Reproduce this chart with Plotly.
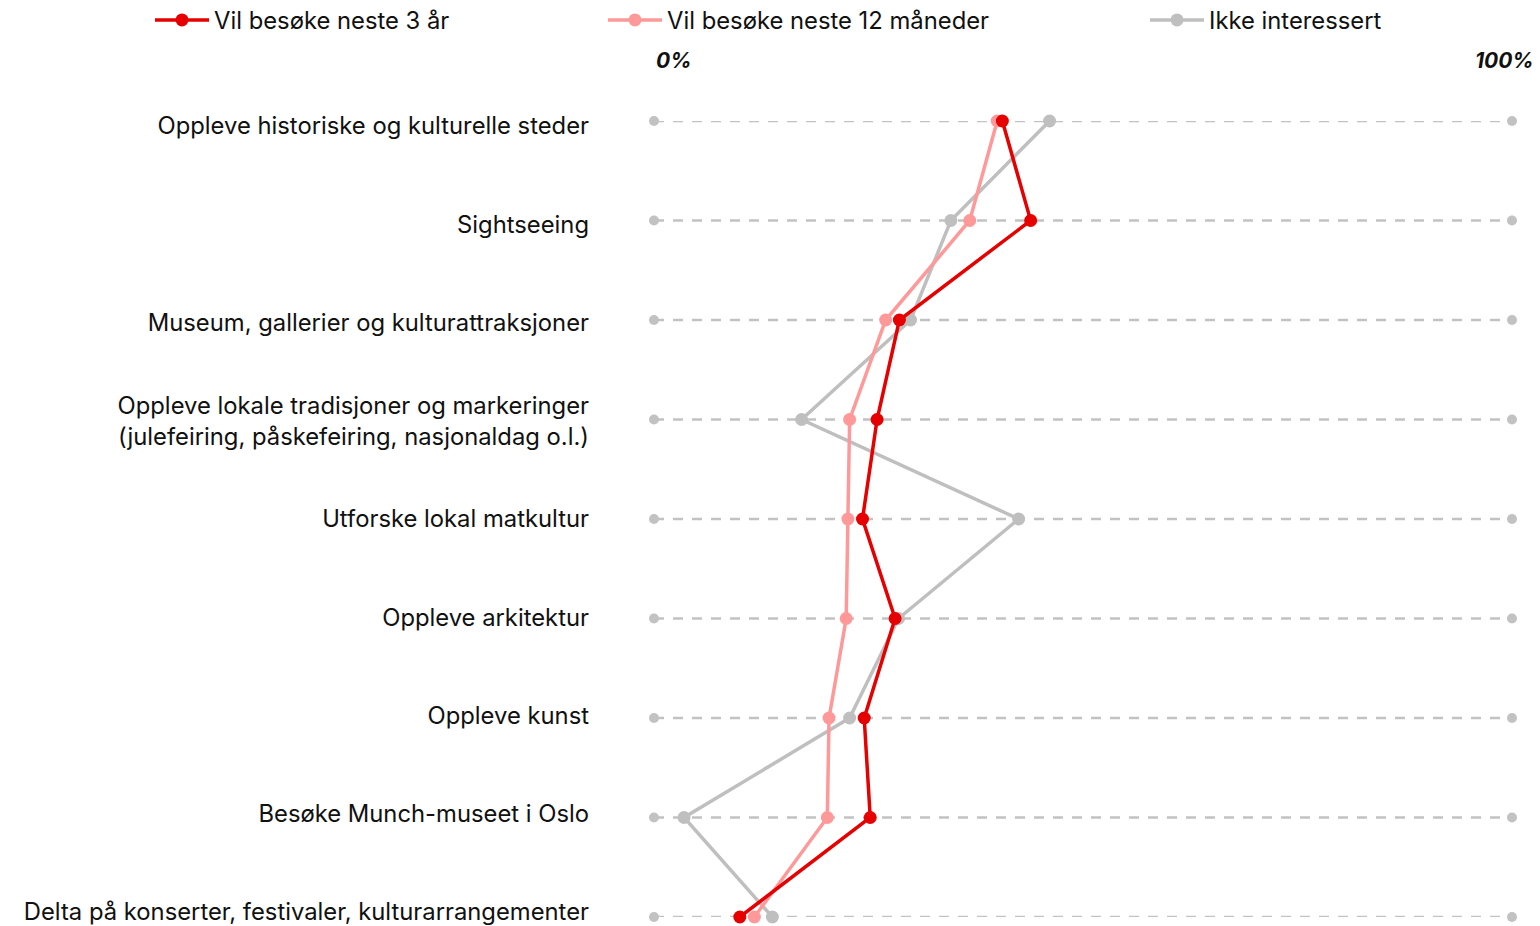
import plotly.graph_objects as go

categories = [
    "Oppleve historiske og kulturelle steder",
    "Sightseeing",
    "Museum, gallerier og kulturattraksjoner",
    "Oppleve lokale tradisjoner og markeringer<br>(julefeiring, påskefeiring, nasjonaldag o.l.)",
    "Utforske lokal matkultur",
    "Oppleve arkitektur",
    "Oppleve kunst",
    "Besøke Munch-museet i Oslo",
    "Delta på konserter, festivaler, kulturarrangementer",
]
series_names = ["Vil besøke neste 3 år", "Vil besøke neste 12 måneder", "Ikke interessert"]
vals_3ar = [40.6, 43.9, 28.6, 26.0, 24.3, 28.1, 24.5, 25.2, 10.0]
vals_12m = [40.0, 36.8, 27.0, 22.8, 22.6, 22.4, 20.4, 20.2, 11.7]
vals_ikke = [46.1, 34.6, 29.9, 17.2, 42.5, 28.5, 22.8, 3.5, 13.8]
axis_min, axis_max = 0, 100
axis_labels = ["0%", "100%"]

colors = ["#E60000", "#FF9999", "#BFBFBF"]
FONT = "Inter"
FS = 23.8

idx = list(range(len(categories)))
fig = go.Figure()

# dashed guide rows
gx, gy = [], []
for i in idx:
    gx += [axis_min, axis_max, None]
    gy += [i, i, None]
fig.add_trace(go.Scatter(
    x=gx, y=gy, mode="lines+markers", showlegend=False, hoverinfo="skip",
    line=dict(color="#C2C2C2", width=2.6, dash="10px,9px"),
    marker=dict(color="#C2C2C2", size=10), cliponaxis=False,
))

legends = ["legend", "legend2", "legend3"]
draw_order = [2, 1, 0]
series = [vals_3ar, vals_12m, vals_ikke]
for k in draw_order:
    fig.add_trace(go.Scatter(
        x=series[k], y=idx, name=series_names[k], mode="lines+markers",
        line=dict(color=colors[k], width=3.5),
        marker=dict(color=colors[k], size=13),
        cliponaxis=False, legend=legends[k],
    ))

# invisible trace for label axis
fig.add_trace(go.Scatter(x=[None], y=[None], yaxis="y2", showlegend=False, hoverinfo="skip"))

L, R, T, B = 654, 28, 121, 9
W, H = 1540, 926
plot_h = H - T - B
n = len(categories)

fig.update_layout(
    width=W, height=H,
    margin=dict(l=L, r=R, t=T, b=B, pad=0, autoexpand=False),
    plot_bgcolor="white", paper_bgcolor="white",
    font=dict(family=FONT, size=FS, color="#111111"),
    xaxis=dict(range=[axis_min, axis_max], visible=False, fixedrange=True, automargin=False),
    yaxis=dict(range=[n - 1, 0], visible=False, fixedrange=True, automargin=False),
    yaxis2=dict(
        overlaying="y", side="left", range=[8.0509, -0.0509],
        tickvals=idx, ticktext=categories, showgrid=False, zeroline=False,
        showline=False, ticks="", ticklabelstandoff=64, automargin=False,
        ticklabeloverflow="allow", fixedrange=True,
        tickfont=dict(family=FONT, size=FS, color="#111111"),
    ),
    showlegend=True,
)

leg_x = [155, 608, 1150]
for name, x in zip(legends, leg_x):
    fig.layout[name] = dict(
        orientation="h", xref="container", yref="container",
        x=(x - 5) / W, xanchor="left",
        y=1 - 20 / H, yanchor="middle",
        font=dict(family=FONT, size=FS, color="#111111"),
        bgcolor="rgba(0,0,0,0)", itemwidth=54,
    )

for lab, xv, anchor, shift in [(axis_labels[0], axis_min, "left", 0), (axis_labels[1], axis_max, "right", 24)]:
    fig.add_annotation(
        x=xv, xref="x", y=1 + (T - 60) / plot_h, yref="paper", text="<b><i>" + lab + "</i></b>",
        showarrow=False, xanchor=anchor, yanchor="middle", xshift=shift,
        font=dict(family=FONT, size=21, color="#111111"),
    )

fig.write_html("out.html", config={"displayModeBar": False},
               post_script="document.body.style.margin='0';")
